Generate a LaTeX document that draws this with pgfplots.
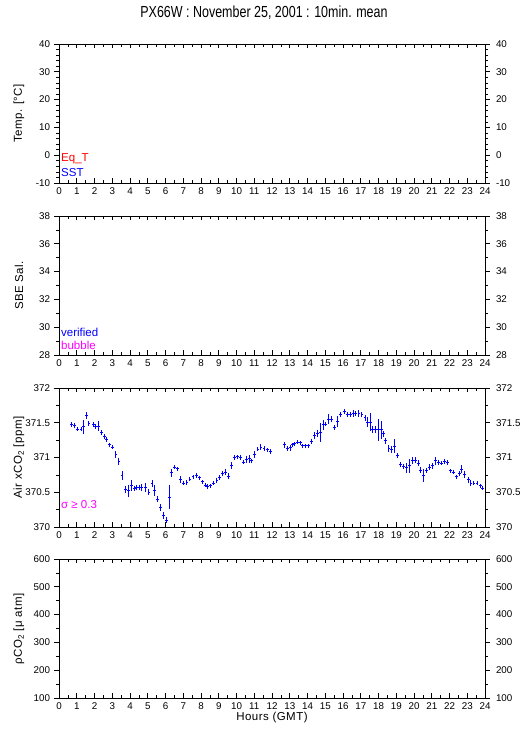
\documentclass[border=0pt]{standalone}
\usepackage{pgfplots}
\usepackage{pgfplotstable}
\pgfplotsset{compat=1.18}
\usepackage{fontspec}
\setmainfont{Liberation Sans}
\newfontfamily\titlefont[FakeStretch=0.78]{Liberation Sans}
\newfontfamily\labfont[LetterSpace=4]{Liberation Sans}
\newcommand{\tickfont}{\fontsize{9.8}{11}\selectfont}
\definecolor{gblue}{RGB}{0,0,255}
\definecolor{gred}{RGB}{255,0,0}
\definecolor{gmag}{RGB}{255,0,255}

\pgfplotstableread{
h v e
0.71 371.47 0.035
0.86 371.46 0.035
1.05 371.41 0.03
1.24 371.41 0.03
1.39 371.44 0.10
1.54 371.60 0.05
1.69 371.49 0.035
1.92 371.47 0.035
2.07 371.44 0.035
2.22 371.45 0.07
2.37 371.36 0.035
2.54 371.30 0.035
2.70 371.26 0.035
2.87 371.18 0.03
3.04 371.15 0.03
3.21 371.04 0.05
3.38 370.94 0.05
3.55 370.74 0.07
3.74 370.54 0.05
3.89 370.52 0.09
4.06 370.60 0.08
4.23 370.56 0.035
4.36 370.57 0.04
4.51 370.57 0.035
4.66 370.57 0.05
4.85 370.57 0.06
5.07 370.50 0.04
5.24 370.62 0.05
5.39 370.53 0.08
5.56 370.40 0.04
5.73 370.28 0.05
5.90 370.16 0.05
6.07 370.10 0.04
6.22 370.43 0.17
6.35 370.78 0.06
6.50 370.86 0.03
6.69 370.84 0.03
6.87 370.69 0.05
7.04 370.63 0.03
7.21 370.64 0.03
7.38 370.69 0.035
7.55 370.72 0.03
7.72 370.74 0.03
7.89 370.71 0.03
8.06 370.65 0.03
8.23 370.60 0.03
8.39 370.58 0.035
8.56 370.59 0.03
8.73 370.63 0.03
8.90 370.67 0.04
9.05 370.71 0.035
9.22 370.77 0.04
9.39 370.79 0.04
9.56 370.73 0.04
9.73 370.88 0.05
9.90 371.00 0.035
10.07 371.01 0.03
10.23 371.00 0.04
10.40 370.93 0.03
10.57 370.97 0.05
10.74 370.98 0.06
10.87 370.95 0.03
11.04 371.04 0.05
11.21 371.12 0.03
11.38 371.15 0.04
11.55 371.13 0.03
11.72 371.11 0.03
11.89 371.09 0.035
12.73 371.18 0.04
12.88 371.13 0.03
13.03 371.14 0.04
13.18 371.18 0.03
13.28 371.20 0.03
13.43 371.22 0.03
13.58 371.21 0.03
13.73 371.17 0.03
13.88 371.17 0.03
14.07 371.17 0.03
14.23 371.23 0.04
14.38 371.31 0.05
14.55 371.35 0.05
14.72 371.36 0.13
14.89 371.47 0.07
15.02 371.48 0.03
15.19 371.55 0.07
15.34 371.55 0.04
15.53 371.43 0.04
15.70 371.52 0.08
15.87 371.62 0.04
16.06 371.66 0.035
16.24 371.62 0.04
16.41 371.62 0.04
16.58 371.63 0.05
16.73 371.63 0.04
16.90 371.63 0.05
17.07 371.62 0.04
17.24 371.57 0.04
17.39 371.51 0.07
17.56 371.51 0.13
17.67 371.40 0.05
17.84 371.40 0.05
18.01 371.40 0.16
18.16 371.40 0.13
18.29 371.34 0.04
18.42 371.24 0.04
18.59 371.13 0.05
18.74 371.12 0.05
18.91 371.16 0.10
19.06 371.03 0.04
19.23 370.90 0.04
19.40 370.87 0.04
19.57 370.85 0.07
19.74 370.88 0.10
19.92 370.95 0.05
20.07 370.96 0.04
20.23 370.92 0.04
20.39 370.82 0.05
20.53 370.74 0.09
20.69 370.81 0.04
20.86 370.86 0.04
21.03 370.88 0.04
21.22 370.95 0.06
21.37 370.93 0.04
21.54 370.92 0.035
21.71 370.94 0.04
21.88 370.93 0.035
22.07 370.81 0.03
22.22 370.79 0.03
22.38 370.72 0.035
22.54 370.77 0.035
22.70 370.83 0.06
22.87 370.76 0.05
23.06 370.68 0.04
23.21 370.63 0.04
23.38 370.63 0.03
23.55 370.63 0.03
23.72 370.59 0.03
23.87 370.56 0.03
}\airco

\pgfplotsset{
  base/.style={scale only axis, width=426pt, height=139pt, xmin=0, xmax=24,
    anchor=south west, axis line style={line width=0.75pt, black},
    every tick/.style={line width=0.6pt, black},
    ticklabel style={font=\tickfont},
    major tick length=4.5pt, minor tick length=3pt},
  xax/.style={base, xtick={0,1,...,24},
    xticklabels={0,1,2,3,4,5,6,7,8,9,10,11,12,13,14,15,16,17,18,19,20,21,22,23,24},
    minor x tick num=1, tick align=inside, xtick pos=both, xticklabel pos=lower,
    ytick=\empty, xticklabel style={yshift=-1pt}},
  yax/.style={base, xtick=\empty, tick align=outside, ytick pos=both, yticklabel pos=left,
    yticklabel style={xshift=-1pt}},
  yaxr/.style={base, xtick=\empty, tick align=outside, ytick pos=both, yticklabel pos=right,
    yticklabel style={xshift=3pt}},
}

\begin{document}
\begin{tikzpicture}
\useasboundingbox (0pt,0pt) rectangle (529pt,739pt);

% Panel 1
\begin{axis}[xax, at={(59pt,556pt)}, ymin=-10, ymax=40]\end{axis}
\begin{axis}[yax, at={(59pt,556pt)}, ymin=-10, ymax=40, ytick={-10,0,10,20,30,40},
  yticklabels={-10,0,10,20,30,40}, minor y tick num=4]\end{axis}
\begin{axis}[yaxr, at={(59pt,556pt)}, ymin=-10, ymax=40, ytick={-10,0,10,20,30,40},
  yticklabels={-10,0,10,20,30,40}, minor y tick num=4]\end{axis}

% Panel 2
\begin{axis}[xax, at={(59pt,384pt)}, ymin=28, ymax=38]\end{axis}
\begin{axis}[yax, at={(59pt,384pt)}, ymin=28, ymax=38, ytick={28,30,...,38},
  yticklabels={28,30,32,34,36,38}, minor y tick num=1]\end{axis}
\begin{axis}[yaxr, at={(59pt,384pt)}, ymin=28, ymax=38, ytick={28,30,...,38},
  yticklabels={28,30,32,34,36,38}, minor y tick num=1]\end{axis}

% Panel 3
\begin{axis}[xax, at={(59pt,212pt)}, ymin=370, ymax=372]
\addplot[draw=none, mark=none,
  error bars/.cd, x dir=both, x fixed=0.083, y dir=both, y explicit,
  error mark=none, error bar style={draw=gblue, line width=1pt, solid}]
  table[x=h, y=v, y error=e] {\airco};
\end{axis}
\begin{axis}[yax, at={(59pt,212pt)}, ymin=370, ymax=372, ytick={370,370.5,371,371.5,372},
  yticklabels={370,370.5,371,371.5,372}, minor y tick num=1]\end{axis}
\begin{axis}[yaxr, at={(59pt,212pt)}, ymin=370, ymax=372, ytick={370,370.5,371,371.5,372},
  yticklabels={370,370.5,371,371.5,372}, minor y tick num=1]\end{axis}

% Panel 4
\begin{axis}[xax, at={(59pt,41pt)}, ymin=100, ymax=600]\end{axis}
\begin{axis}[yax, at={(59pt,41pt)}, ymin=100, ymax=600, ytick={100,200,...,600},
  yticklabels={100,200,300,400,500,600}, minor y tick num=1]\end{axis}
\begin{axis}[yaxr, at={(59pt,41pt)}, ymin=100, ymax=600, ytick={100,200,...,600},
  yticklabels={100,200,300,400,500,600}, minor y tick num=1]\end{axis}

% Texts
\node at (264pt,726pt) {\titlefont\fontsize{16}{19}\selectfont PX66W : November 25, 2001 : 10min. mean};
\node at (272pt,21pt) {\labfont\fontsize{11.5}{13}\selectfont Hours (GMT)};
\node[rotate=90] at (19pt,625.5pt) {\labfont\fontsize{11.5}{13}\selectfont Temp. [°C]};
\node[rotate=90] at (19pt,453.5pt) {\labfont\fontsize{11.5}{13}\selectfont SBE Sal.};
\node[rotate=90] at (19pt,281.5pt) {\labfont\fontsize{11.5}{13}\selectfont Air xCO\textsubscript{2} [ppm]};
\node[rotate=90] at (19pt,110pt) {\labfont\fontsize{11.5}{13}\selectfont ρCO\textsubscript{2} [μ atm]};
\node[anchor=west, text=gred, inner sep=0pt] at (61pt,580pt) {\fontsize{11.5}{13}\selectfont Eq\_T};
\node[anchor=west, text=gblue, inner sep=0pt] at (61pt,566pt) {\fontsize{11.5}{13}\selectfont SST};
\node[anchor=west, text=gblue, inner sep=0pt] at (61pt,407pt) {\fontsize{11.5}{13}\selectfont verified};
\node[anchor=west, text=gmag, inner sep=0pt] at (61pt,394pt) {\fontsize{11.5}{13}\selectfont bubble};
\node[anchor=west, text=gmag, inner sep=0pt] at (61pt,234pt) {\fontsize{11.5}{13}\selectfont σ ≥ 0.3};
\end{tikzpicture}
\end{document}
